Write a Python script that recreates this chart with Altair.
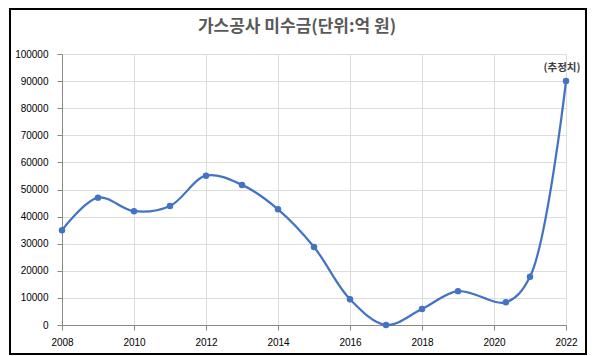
import altair as alt
import pandas as pd

# ---- data ----
years = [2008, 2009, 2010, 2011, 2012, 2013, 2014, 2015, 2016, 2017, 2018, 2019, 2020.33, 2021, 2022]
values = [35000, 47000, 42000, 43900, 55100, 51700, 42700, 28800, 9500, 0, 5900, 12500, 8400, 17800, 90000]
notes = ["", "", "", "", "", "", "", "", "", "", "", "", "", "", "(추정치)"]
x_ticks = [2008, 2010, 2012, 2014, 2016, 2018, 2020, 2022]
y_ticks = [0, 10000, 20000, 30000, 40000, 50000, 60000, 70000, 80000, 90000, 100000]
title_text = "가스공사 미수금(단위:억 원)"

df = pd.DataFrame({"year": years, "value": values, "note": notes})
note_df = df[df["note"] != ""]

FONT = "Noto Sans CJK KR"
BLUE = "#4472C4"
W, H = 504, 271
PAD = {"left": 54, "top": 46, "right": 21, "bottom": 30}

x = alt.X("year:Q", scale=alt.Scale(domain=[2008, 2022], nice=False, zero=False),
          axis=alt.Axis(values=x_ticks, format="d", title=None, labelPadding=7, labelFlush=False))
y = alt.Y("value:Q", scale=alt.Scale(domain=[0, 100000], nice=False),
          axis=alt.Axis(values=y_ticks, format="d", title=None, labelPadding=9))

line = alt.Chart(df).mark_line(color=BLUE, strokeWidth=2.25, interpolate="catmull-rom").encode(x=x, y=y)
points = alt.Chart(df).mark_circle(color=BLUE, size=42, opacity=1).encode(x=x, y=y)
note = alt.Chart(note_df).mark_text(font=FONT, fontSize=10.5, fontWeight="bold", color="#404040",
                                   dx=-4, dy=-13).encode(x=x, y=y, text="note:N")

base = alt.Chart(pd.DataFrame({"t": [title_text]}))
title = base.mark_text(font=FONT, fontSize=17, fontWeight="bold", color="#595959",
                       align="center", baseline="middle").encode(
    text="t:N", x=alt.value(235), y=alt.value(-27))
frame = base.mark_rect(fill=None, stroke="#000000", strokeWidth=2).encode(
    x=alt.value(-52), x2=alt.value(W + 20), y=alt.value(-45), y2=alt.value(H + 29))

chart = alt.layer(line, points, note, title, frame).properties(
    width=W, height=H,
    autosize=alt.AutoSizeParams(type="none"),
    padding=PAD,
).configure_view(stroke=None).configure_axis(
    domain=False, ticks=False, grid=True, gridColor="#D9D9D9", gridWidth=1,
    labelColor="#595959", labelFont=FONT, labelFontSize=12.5,
).configure(background="white")

chart.save("out.html", embed_options={"renderer": "svg", "actions": False})
